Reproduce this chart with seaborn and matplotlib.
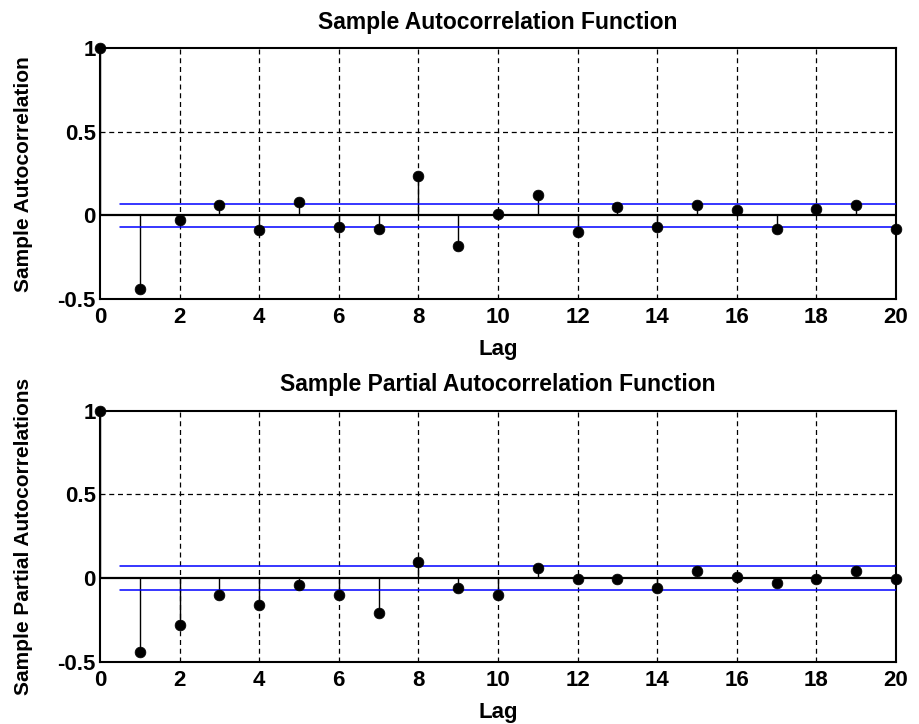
import matplotlib
matplotlib.use('Agg')
import matplotlib.pyplot as plt
import seaborn as sns
import pandas as pd

sns.set_theme(style="white")
plt.rcParams['font.family'] = ['Liberation Sans', 'DejaVu Sans']
plt.rcParams['font.weight'] = 'bold'

# Data
lags = list(range(0, 21))
acf_values = [1.0, -0.44, -0.03, 0.06, -0.09, 0.08, -0.07, -0.08, 0.235, -0.18, 0.01,
              0.125, -0.10, 0.05, -0.07, 0.06, 0.03, -0.08, 0.04, 0.06, -0.08]
pacf_values = [1.0, -0.44, -0.28, -0.10, -0.16, -0.04, -0.10, -0.21, 0.095, -0.06, -0.10,
               0.06, -0.005, -0.005, -0.06, 0.04, 0.005, -0.03, -0.005, 0.04, -0.005]
conf_bound = 0.07
bound_start = 0.5

x_ticks = list(range(0, 21, 2))
y_ticks = [-0.5, 0, 0.5, 1]
y_ticklabels = ['-0.5', '0', '0.5', '1']

panels = [
    ('Sample Autocorrelation Function', 'Sample Autocorrelation', acf_values),
    ('Sample Partial Autocorrelation Function', 'Sample Partial Autocorrelations', pacf_values),
]

fig = plt.figure(figsize=(9.2, 7.24), dpi=100)
fig.patch.set_facecolor('white')

positions = [
    [100 / 920, 1 - 299 / 724, 796 / 920, 250.7 / 724],
    [100 / 920, 1 - 661.7 / 724, 796 / 920, 251 / 724],
]

for (title, ylabel, values), pos in zip(panels, positions):
    ax = fig.add_axes(pos)
    df = pd.DataFrame({'lag': lags, 'value': values})

    # MATLAB-like dashed grid
    for xt in x_ticks[1:-1]:
        ax.axvline(xt, color='black', lw=0.9, ls=(0, (4, 3)), zorder=1)
    ax.axhline(0.5, color='black', lw=0.9, ls=(0, (4, 3)), zorder=1)

    # stems, baseline and confidence bounds
    ax.vlines(df['lag'], 0, df['value'], color='black', lw=1.0, zorder=2)
    ax.plot([0, 20], [0, 0], color='black', lw=1.6, zorder=2)
    ax.plot([bound_start, 20], [conf_bound, conf_bound], color='#0000ff', lw=1.1, zorder=3)
    ax.plot([bound_start, 20], [-conf_bound, -conf_bound], color='#0000ff', lw=1.1, zorder=3)

    sns.scatterplot(data=df, x='lag', y='value', ax=ax, color='black', s=60,
                    edgecolor='black', linewidth=0.5, zorder=4, clip_on=False)

    ax.set_xlim(0, 20)
    ax.set_ylim(-0.5, 1)
    ax.set_xticks(x_ticks)
    ax.set_xticklabels([str(t) for t in x_ticks], fontsize=16, fontweight='bold')
    ax.set_yticks(y_ticks)
    ax.set_yticklabels(y_ticklabels, fontsize=16, fontweight='bold')
    ax.tick_params(axis='x', direction='in', length=0, pad=6, colors='black')
    ax.tick_params(axis='y', direction='in', length=0, pad=3, colors='black')

    for spine in ax.spines.values():
        spine.set_color('black')
        spine.set_linewidth(1.5)
        spine.set_visible(True)

    ax.set_title(title, fontsize=16.5, fontweight='bold', pad=14, color='black')
    ax.set_xlabel('Lag', fontsize=16, fontweight='bold', color='black', labelpad=8)
    ax.set_ylabel(ylabel, fontsize=15, fontweight='bold', color='black')
    ax.yaxis.set_label_coords(-0.084, 0.5)

fig.savefig('out.png', dpi=100, facecolor='white')
